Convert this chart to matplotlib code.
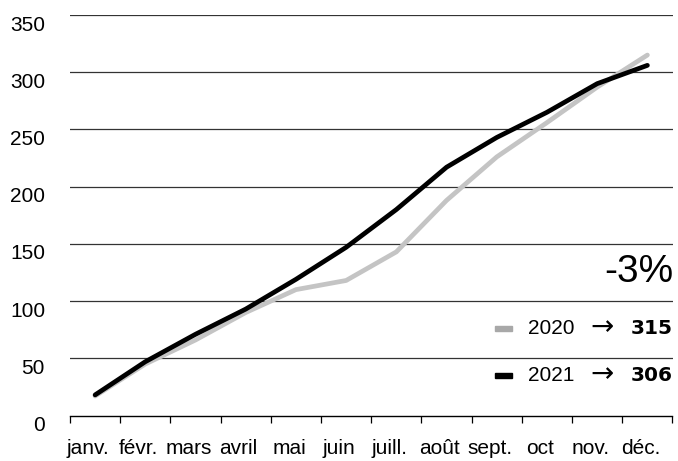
import matplotlib
matplotlib.use('Agg')
import matplotlib.pyplot as plt
import matplotlib.transforms as mtransforms
from matplotlib.patches import Rectangle
import numpy as np

plt.rcParams['font.family'] = ['Liberation Sans', 'DejaVu Sans']

months = ['janv.', 'févr.', 'mars', 'avril', 'mai', 'juin',
          'juill.', 'août', 'sept.', 'oct', 'nov.', 'déc.']
v2020 = [17, 45, 66, 90, 110, 118, 143, 188, 226, 256, 287, 315]
v2021 = [18, 47, 71, 93, 119, 147, 180, 217, 243, 265, 290, 306]
yticks = [0, 50, 100, 150, 200, 250, 300, 350]
change_label = '-3%'

W, H = 678, 461
fig = plt.figure(figsize=(W / 100, H / 100), dpi=100)
ax = fig.add_axes([70 / W, 1 - 415.5 / H, (672.5 - 70) / W, (415.5 - 15) / H])

x = np.arange(len(months))
ax.plot(x, v2020, color='#c4c4c4', linewidth=3.4, solid_capstyle='round', zorder=3)
ax.plot(x, v2021, color='black', linewidth=3.4, solid_capstyle='round', zorder=4)

ax.set_xlim(-0.5, len(months) - 0.5)
ax.set_ylim(0, 350)

# grid lines
for v in yticks[1:]:
    ax.axhline(v, color='#333333', linewidth=0.9, zorder=1)

for s in ['top', 'right', 'left']:
    ax.spines[s].set_visible(False)
ax.spines['bottom'].set_color('black')
ax.spines['bottom'].set_linewidth(1.0)

ax.set_yticks(yticks)
ax.set_yticklabels([str(v) for v in yticks], fontsize=15)
ax.tick_params(axis='y', length=0, pad=18)
shift = mtransforms.ScaledTranslation(0, -0.08, fig.dpi_scale_trans)
for lab in ax.get_yticklabels():
    lab.set_transform(lab.get_transform() + shift)

ax.set_xticks(x)
ax.set_xticklabels(months, fontsize=15)
ax.set_xticks(np.arange(len(months) + 1) - 0.5, minor=True)
ax.tick_params(axis='x', which='major', length=0, pad=17)
ax.tick_params(axis='x', which='minor', length=5, width=0.9, color='black')
xshift = mtransforms.ScaledTranslation(-0.07, 0, fig.dpi_scale_trans)
for lab in ax.get_xticklabels():
    lab.set_transform(lab.get_transform() + xshift)

# annotation block
def fx(px):
    return px / W

def fy(py):
    return 1 - py / H

fig.text(fx(673), fy(272), change_label, fontsize=28, ha='right', va='center')

rows = [('2020', '315', '#a8a8a8', 328), ('2021', '306', 'black', 375.5)]
for year, total, col, py in rows:
    fig.patches.append(Rectangle((fx(495), fy(py + 2.5)), 17 / W, 5 / H,
                                 transform=fig.transFigure, color=col))
    fig.text(fx(528), fy(py), year, fontsize=15, ha='left', va='center')
    fig.text(fx(602), fy(py - 1), '→', fontsize=20, ha='center', va='center',
             family=['DejaVu Sans'])
    fig.text(fx(673), fy(py), total, fontsize=14.5, ha='right', va='center',
             fontweight='bold', family=['DejaVu Sans'])

fig.savefig('out.png', dpi=100)
